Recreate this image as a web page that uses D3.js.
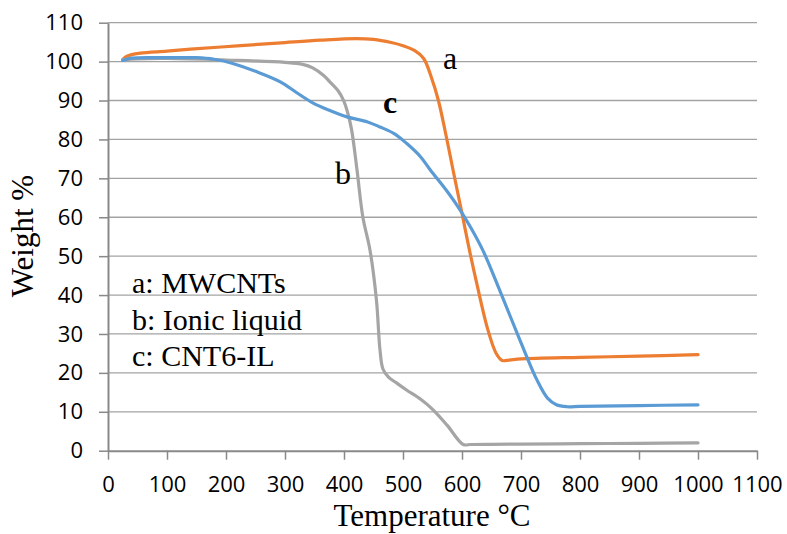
<!DOCTYPE html>
<html>
<head>
<meta charset="utf-8">
<script src="https://cdn.jsdelivr.net/npm/d3@7"></script>
<style>
  body { margin: 0; background: #fff; }
  svg { display: block; }
</style>
</head>
<body>
<svg width="787" height="534"></svg>
<script>
// TGA curves (temperature °C, weight %)
const tempA = [25, 30, 40, 55, 100, 140, 225, 300, 360, 420, 450, 480, 500, 520, 535, 548, 560, 573, 585, 600, 612, 625, 644, 658, 668, 680, 700, 800, 900, 1000];
const weightA = [100.5, 101.2, 101.8, 102.2, 102.7, 103.2, 104.1, 104.9, 105.5, 105.9, 105.7, 104.9, 104.1, 102.8, 100.8, 96, 90, 81, 72, 61, 52, 43, 31, 25, 23.2, 23.3, 23.6, 24, 24.3, 24.7];

const tempB = [25, 50, 100, 200, 300, 330, 347, 365, 376, 390, 399, 406, 413, 422, 432, 444, 455, 461, 466, 475, 490, 506, 530, 551, 575, 602, 615, 650, 700, 800, 900, 1000];
const weightB = [100.5, 100.7, 100.8, 100.4, 99.8, 99.3, 98.4, 96.5, 94.8, 92.5, 90.1, 87, 82.4, 72.2, 60, 51.6, 38.7, 25.9, 21, 19, 17.3, 15.6, 13.2, 10.5, 6.5, 1.6, 1.6, 1.65, 1.7, 1.8, 1.9, 2];

const tempC = [25, 40, 100, 150, 180, 210, 250, 292, 320, 347, 375, 405, 440, 461, 485, 506, 530, 546, 575, 595, 615, 636, 665, 698, 727, 745, 760, 778, 800, 900, 1000];
const weightC = [100.3, 100.9, 101, 101, 100.6, 99.6, 97.5, 94.8, 92, 89.4, 87.5, 85.8, 84.5, 83.2, 81.5, 79, 75.5, 72.2, 66.6, 62.3, 57.3, 51.3, 40.8, 28.5, 18.2, 13.5, 11.8, 11.3, 11.4, 11.6, 11.8];

const xTicks = d3.range(0, 1101, 100);
const yTicks = d3.range(0, 111, 10);
const legendLines = ['a: MWCNTs', 'b: Ionic liquid', 'c: CNT6-IL'];

const series = [
  { name: 'a', temp: tempA, weight: weightA, color: '#ED7D31' },
  { name: 'b', temp: tempB, weight: weightB, color: '#A5A5A5' },
  { name: 'c', temp: tempC, weight: weightC, color: '#5B9BD5' }
];

const svg = d3.select('svg');

const x = d3.scaleLinear().domain([0, 1100]).range([108, 757]);
const y = d3.scaleLinear().domain([0, 110]).range([450.7, 22.7]);

// horizontal gridlines
svg.append('g')
  .selectAll('line')
  .data(yTicks.filter(d => d > 0))
  .enter()
  .append('line')
  .attr('x1', x(0))
  .attr('x2', x(1100))
  .attr('y1', d => y(d))
  .attr('y2', d => y(d))
  .attr('stroke', '#a3a3a3')
  .attr('stroke-width', 1.3);

// axes
const xAxis = svg.append('g')
  .attr('transform', `translate(0,${y(0)})`)
  .call(d3.axisBottom(x).tickValues(xTicks).tickFormat(d3.format('d'))
    .tickSize(9).tickSizeOuter(0).tickPadding(17));

const yAxis = svg.append('g')
  .attr('transform', `translate(${x(0)},0)`)
  .call(d3.axisLeft(y).tickValues(yTicks).tickFormat(d3.format('d'))
    .tickSize(9).tickSizeOuter(0).tickPadding(16));

[xAxis, yAxis].forEach(ax => {
  ax.select('.domain').attr('stroke', '#898989').attr('stroke-width', 2);
  ax.selectAll('.tick line').attr('stroke', '#898989').attr('stroke-width', 1.5);
  ax.selectAll('.tick text')
    .attr('fill', '#000')
    .style('font-family', '"Open Sans", sans-serif')
    .style('font-size', '22px');
});

// curves (smoothed like the spreadsheet original)
const line = d3.line()
  .x(d => x(d[0]))
  .y(d => y(d[1]))
  .curve(d3.curveCatmullRom.alpha(0.5));

svg.append('g')
  .selectAll('path')
  .data(series)
  .enter()
  .append('path')
  .attr('d', s => line(s.temp.map((t, i) => [t, s.weight[i]])))
  .attr('fill', 'none')
  .attr('stroke', s => s.color)
  .attr('stroke-width', 3.2)
  .attr('stroke-linecap', 'round')
  .attr('stroke-linejoin', 'round');

const serif = '"Liberation Serif", "Times New Roman", serif';

// curve letters
svg.append('text').text('a').attr('x', 450).attr('y', 69)
  .attr('text-anchor', 'middle').style('font-family', serif).style('font-size', '32px');
svg.append('text').text('b').attr('x', 343).attr('y', 184)
  .attr('text-anchor', 'middle').style('font-family', serif).style('font-size', '32px');
svg.append('text').text('c').attr('x', 390).attr('y', 113)
  .attr('text-anchor', 'middle').style('font-family', serif).style('font-size', '32px')
  .style('font-weight', 'bold');

// legend text
svg.append('g')
  .selectAll('text')
  .data(legendLines)
  .enter()
  .append('text')
  .text(d => d)
  .attr('x', 132)
  .attr('y', (d, i) => 293 + i * 36.5)
  .style('font-family', serif)
  .style('font-size', '30px');

// axis titles
svg.append('text')
  .text('Temperature °C')
  .attr('x', 432)
  .attr('y', 526)
  .attr('text-anchor', 'middle')
  .style('font-family', serif)
  .style('font-size', '31px');

svg.append('text')
  .text('Weight %')
  .attr('transform', 'translate(33,236) rotate(-90)')
  .attr('text-anchor', 'middle')
  .style('font-family', serif)
  .style('font-size', '31px');
</script>
</body>
</html>
